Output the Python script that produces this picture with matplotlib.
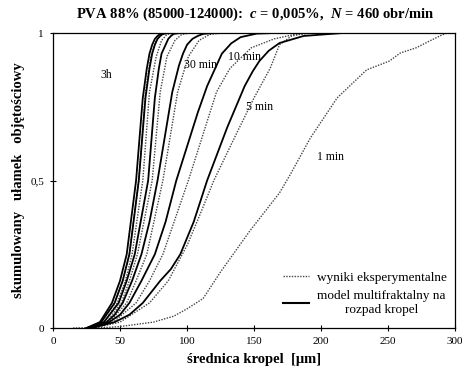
import matplotlib
matplotlib.use("Agg")
import matplotlib.pyplot as plt
from matplotlib.lines import Line2D

plt.rcParams["font.family"] = ["Liberation Serif", "DejaVu Serif"]
plt.rcParams["mathtext.fontset"] = "custom"
plt.rcParams["mathtext.it"] = "Liberation Serif:italic:bold"
plt.rcParams["mathtext.rm"] = "Liberation Serif:bold"

# model curves (solid): droplet diameter [um] vs cumulative volume fraction
model_3h_d = [25, 35, 44, 50, 55, 62, 67, 70, 72, 74, 76, 78, 80, 84]
model_3h_f = [0, 0.02, 0.085, 0.16, 0.25, 0.5, 0.78, 0.88, 0.93, 0.96, 0.98, 0.99, 0.997, 1.0]
model_2h_d = [26, 36, 46, 52, 57, 64, 69, 72, 74, 76, 78, 80, 82, 86]
model_2h_f = [0, 0.02, 0.085, 0.16, 0.25, 0.5, 0.78, 0.88, 0.93, 0.96, 0.98, 0.99, 0.997, 1.0]
model_1h_d = [27, 38, 49, 55, 61, 71, 76, 79, 81, 84, 86, 88, 90, 95]
model_1h_f = [0, 0.02, 0.085, 0.16, 0.25, 0.5, 0.78, 0.88, 0.93, 0.96, 0.98, 0.99, 0.997, 1.0]
model_30_d = [27, 40, 46, 52, 59, 66, 72, 78, 89, 94, 97, 100, 104, 108, 112, 120]
model_30_f = [0, 0.02, 0.045, 0.085, 0.16, 0.25, 0.36, 0.5, 0.8, 0.89, 0.93, 0.96, 0.98,
              0.99, 0.997, 1.0]
model_10_d = [28, 42, 50, 57, 66, 76, 84, 92, 108, 115, 121, 126, 133, 140, 152, 165]
model_10_f = [0, 0.02, 0.045, 0.085, 0.16, 0.25, 0.36, 0.5, 0.73, 0.82, 0.88, 0.93, 0.965,
              0.986, 0.998, 1.0]
model_5_d = [29, 46, 57, 67, 80, 88, 95, 105, 115, 130, 143, 149, 154, 161, 169, 187, 216]
model_5_f = [0, 0.02, 0.045, 0.085, 0.16, 0.2, 0.25, 0.36, 0.5, 0.68, 0.82, 0.87, 0.905,
             0.94, 0.966, 0.99, 1.0]

# experimental results (dotted)
exp_3h_d = [24, 36, 46, 52, 57, 64, 69, 73, 77, 81, 86]
exp_3h_f = [0, 0.02, 0.085, 0.16, 0.25, 0.5, 0.8, 0.92, 0.975, 0.995, 1.0]
exp_2h_d = [26, 38, 48, 54, 59, 67, 72, 77, 81, 85, 90]
exp_2h_f = [0, 0.02, 0.085, 0.16, 0.25, 0.5, 0.8, 0.92, 0.975, 0.995, 1.0]
exp_1h_d = [27, 40, 51, 57, 63, 74, 80, 85, 91, 96, 102]
exp_1h_f = [0, 0.02, 0.085, 0.16, 0.25, 0.5, 0.8, 0.92, 0.975, 0.995, 1.0]
exp_30_d = [27, 42, 55, 62, 70, 82, 93, 101, 109, 117, 127]
exp_30_f = [0, 0.02, 0.085, 0.16, 0.25, 0.5, 0.8, 0.92, 0.975, 0.995, 1.0]
exp_10_d = [28, 45, 62, 72, 82, 101, 122, 132, 148, 165, 180, 195]
exp_10_f = [0, 0.02, 0.085, 0.16, 0.25, 0.5, 0.8, 0.88, 0.95, 0.98, 0.995, 1.0]
exp_5_d = [30, 50, 72, 86, 100, 108, 120, 137, 150, 162, 169, 178, 190]
exp_5_f = [0, 0.02, 0.085, 0.16, 0.28, 0.366, 0.5, 0.66, 0.78, 0.88, 0.96, 0.99, 1.0]
exp_1_d = [15, 40, 50, 75, 90, 100, 112, 125, 147, 169, 177, 192, 212, 234, 251, 259,
           271, 281, 290, 294]
exp_1_f = [0, 0.002, 0.005, 0.02, 0.04, 0.065, 0.1, 0.19, 0.33, 0.458, 0.52, 0.644,
           0.78, 0.875, 0.905, 0.932, 0.95, 0.973, 0.993, 1.0]

models = [(model_3h_d, model_3h_f), (model_2h_d, model_2h_f), (model_1h_d, model_1h_f),
          (model_30_d, model_30_f), (model_10_d, model_10_f), (model_5_d, model_5_f)]
experiments = [(exp_3h_d, exp_3h_f), (exp_2h_d, exp_2h_f), (exp_1h_d, exp_1h_f),
               (exp_30_d, exp_30_f), (exp_10_d, exp_10_f), (exp_5_d, exp_5_f),
               (exp_1_d, exp_1_f)]

curve_labels = ["3h", "30 min", "10 min", "5 min", "1 min"]
label_x = [40, 110, 143, 154, 207]
label_y = [0.858, 0.89, 0.92, 0.75, 0.58]

DOT = (0, (1, 1))

fig = plt.figure(figsize=(4.62, 3.73), dpi=100)
ax = fig.add_axes([0.1147, 0.1206, 0.8703, 0.7909])

for d, f in experiments:
    ax.plot(d, f, color="#444444", lw=1.0, linestyle=DOT)
for d, f in models:
    ax.plot(d, f, color="black", lw=1.3)

for t, x, y in zip(curve_labels, label_x, label_y):
    ax.text(x, y, t, fontsize=8.5, ha="center", va="center")

ax.set_xlim(0, 300)
ax.set_ylim(0, 1)
ax.set_xticks([0, 50, 100, 150, 200, 250, 300])
ax.set_yticks([0, 0.5, 1])
ax.set_yticklabels(["0", "0,5", "1"])
ax.tick_params(direction="inout", length=5, width=0.8, labelsize=8, pad=4)
for s in ax.spines.values():
    s.set_linewidth(0.9)

ax.set_xlabel("średnica kropel  [μm]", fontsize=10.5, fontweight="bold", labelpad=5)
ax.set_ylabel("skumulowany   ułamek   objętościowy", fontsize=10.5, fontweight="bold",
              labelpad=4)

fig.text(0.552, 0.962,
         r"PVA 88% (85000-124000):  $c$ = 0,005%,  $N$ = 460 obr/min",
         fontsize=10.5, fontweight="bold", ha="center", va="center")

handles = [Line2D([], [], color="#444444", lw=1.0, linestyle=DOT),
           Line2D([], [], color="black", lw=1.5)]
leg = ax.legend(handles, ["wyniki eksperymentalne", "model multifraktalny na\nrozpad kropel"],
                loc="lower right", bbox_to_anchor=(1.01, 0.0), frameon=False, fontsize=9.5,
                handlelength=2.0, handletextpad=0.6, labelspacing=0.5)
for t in leg.get_texts():
    t.set_multialignment("center")

fig.savefig("out.png", dpi=100)
